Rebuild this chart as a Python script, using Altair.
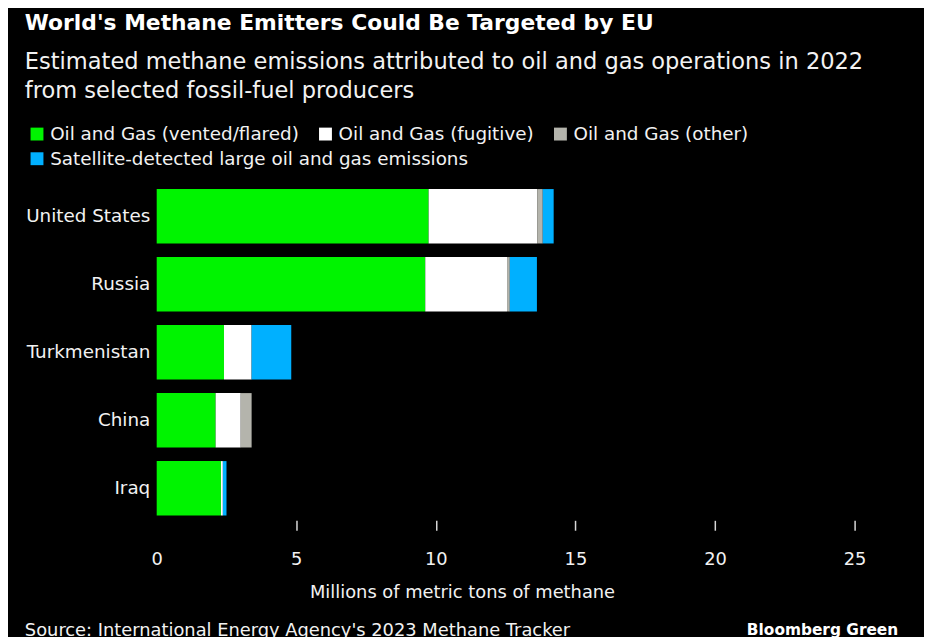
import altair as alt
import pandas as pd

countries = ["United States", "Russia", "Turkmenistan", "China", "Iraq"]
categories = [
    "Oil and Gas (vented/flared)",
    "Oil and Gas (fugitive)",
    "Oil and Gas (other)",
    "Satellite-detected large oil and gas emissions",
]
vented = [9.74, 9.62, 2.41, 2.11, 2.30]
fugitive = [3.89, 2.93, 0.99, 0.90, 0.07]
other = [0.20, 0.10, 0.00, 0.39, 0.00]
satellite = [0.39, 0.97, 1.42, 0.00, 0.13]
colors = ["#00f400", "#ffffff", "#b4b4ac", "#00b0ff"]
x_ticks = [0, 5, 10, 15, 20, 25]

title_text = "World's Methane Emitters Could Be Targeted by EU"
subtitle_lines = [
    "Estimated methane emissions attributed to oil and gas operations in 2022",
    "from selected fossil-fuel producers",
]
source_text = "Source: International Energy Agency's 2023 Methane Tracker"
brand_text = "Bloomberg Green"
x_title = "Millions of metric tons of methane"

FONT = "DejaVu Sans"
TXT = "#f2f2f2"

rows = []
for series, vals in zip(categories, [vented, fugitive, other, satellite]):
    for c, v in zip(countries, vals):
        rows.append({"country": c, "category": series, "value": v,
                     "order": categories.index(series)})
df = pd.DataFrame(rows)

y_enc = alt.Y("country:N", sort=countries, title=None,
              scale=alt.Scale(paddingInner=0.2, paddingOuter=0.1),
              axis=alt.Axis(domain=False, ticks=False, labelPadding=7,
                            labelFont=FONT, labelFontSize=18.5, labelColor=TXT))
x_enc = alt.X("x0:Q", title=x_title,
              scale=alt.Scale(domain=[0, 25], nice=False),
              axis=alt.Axis(values=x_ticks, domain=False, grid=False, offset=-2,
                            tickSize=10, tickWidth=1.5, tickColor="#d8d8d8",
                            tickOpacity={"condition": {"test": "datum.value === 0", "value": 0}, "value": 1},
                            labelFont=FONT, labelFontSize=18, labelColor=TXT,
                            labelPadding=21, labelFlush=False,
                            titleFont=FONT, titleFontSize=18, titleFontWeight="normal",
                            titleColor=TXT, titleX=308, titleY=78,
                            titleAlign="center", titleBaseline="alphabetic"))

legend_common = dict(title=None, orient="none", direction="horizontal",
                     symbolType="square", symbolSize=169, symbolStrokeWidth=0,
                     symbolOpacity=1, labelFont=FONT, labelFontSize=18.5,
                     labelColor=TXT, labelOffset=4, columnPadding=17,
                     padding=0, labelLimit=600)

base = alt.Chart(df).transform_stack(
    stack="value", groupby=["country"], as_=["x0", "x1"],
    sort=[alt.SortField("order", order="ascending")],
)

bars_main = base.transform_filter("datum.order < 3").mark_bar(strokeWidth=0).encode(
    y=y_enc, x=x_enc, x2="x1:Q",
    color=alt.Color("category:N",
                    scale=alt.Scale(domain=categories[:3], range=colors[:3]),
                    legend=alt.Legend(legendX=-130, legendY=-58, **legend_common)),
)

bars_sat = base.transform_filter("datum.order == 3").mark_bar(strokeWidth=0).encode(
    y=y_enc, x=x_enc, x2="x1:Q",
    fill=alt.Fill("category:N",
                  scale=alt.Scale(domain=categories[3:], range=colors[3:]),
                  legend=alt.Legend(legendX=-130, legendY=-33, **legend_common)),
)

footer = alt.Chart(pd.DataFrame({"label": [source_text]})).mark_text(
    align="left", baseline="alphabetic", font=FONT, fontSize=18, color=TXT
).encode(x=alt.value(-133), y=alt.value(458), text="label:N")

brand = alt.Chart(pd.DataFrame({"label": [brand_text]})).mark_text(
    align="right", baseline="alphabetic", font=FONT, fontSize=15.5, fontWeight="bold", color="#ffffff"
).encode(x=alt.value(748), y=alt.value(457), text="label:N")

chart = alt.layer(bars_main, bars_sat, footer, brand).properties(
    width=704,
    height=343,
    background="#000000",
    padding={"left": 150, "top": 173, "right": 70, "bottom": 124},
    autosize=alt.AutoSizeParams(type="none"),
    title=alt.TitleParams(
        text=title_text, subtitle=subtitle_lines, anchor="start", frame="bounds",
        font=FONT, fontSize=22, fontWeight="bold", color="#ffffff",
        subtitleFont=FONT, subtitleFontSize=22.7, subtitleColor=TXT,
        subtitleLineHeight=30, subtitlePadding=16, offset=21,
    ),
).resolve_scale(color="independent").configure_view(stroke=None)

chart.save("out.html", embed_options={"renderer": "svg", "actions": False})
